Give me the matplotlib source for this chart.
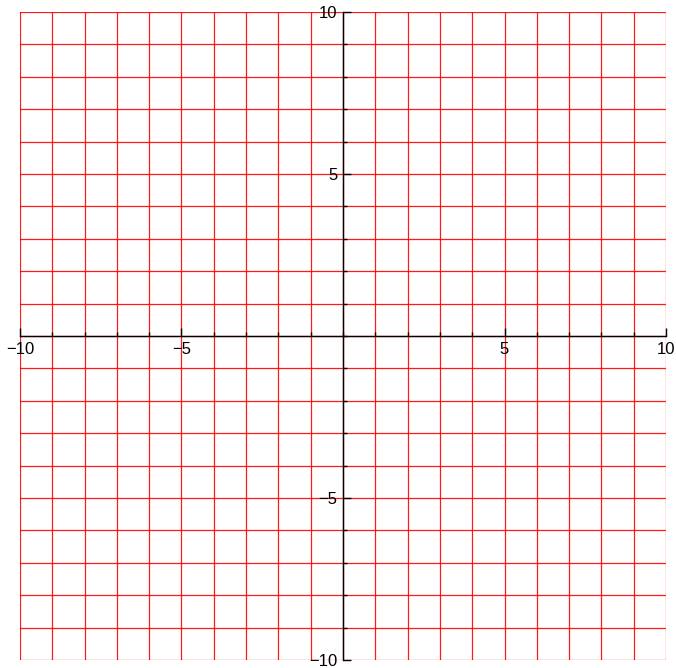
import numpy as np
import matplotlib.pyplot as plt
from matplotlib.ticker import MultipleLocator, FixedLocator

plt.rcParams['font.family'] = ['Liberation Sans', 'DejaVu Sans']

# ---- data: axis range and tick values ----
x_range = [-10, 10]
y_range = [-10, 10]
major_ticks = [-10, -5, 5, 10]
grid_step = 1

fig = plt.figure(figsize=(6.76, 6.68), dpi=100)
ax = fig.add_axes([20 / 676, 8 / 668, 646 / 676, 648 / 668])
ax.set_xlim(x_range)
ax.set_ylim(y_range)

# red grid every unit
ax.xaxis.set_major_locator(FixedLocator(major_ticks))
ax.yaxis.set_major_locator(FixedLocator(major_ticks))
ax.xaxis.set_minor_locator(MultipleLocator(grid_step))
ax.yaxis.set_minor_locator(MultipleLocator(grid_step))
ax.grid(True, which='both', color='red', lw=0.9, alpha=0.9, zorder=0)
ax.set_axisbelow(True)

# spines through origin
ax.spines['left'].set_position('zero')
ax.spines['bottom'].set_position('zero')
ax.spines['right'].set_visible(False)
ax.spines['top'].set_visible(False)
for s in ['left', 'bottom']:
    ax.spines[s].set_color('black')
    ax.spines[s].set_linewidth(1.0)

ax.tick_params(which='major', direction='in', length=6, width=1, labelsize=12, pad=4)
ax.tick_params(which='minor', direction='in', length=3, width=1)
ax.set_xticklabels([f"{t}".replace('-', '\u2212') for t in major_ticks])
ax.set_yticklabels([f"{t}".replace('-', '\u2212') for t in major_ticks])

fig.savefig('out.png', dpi=100)
